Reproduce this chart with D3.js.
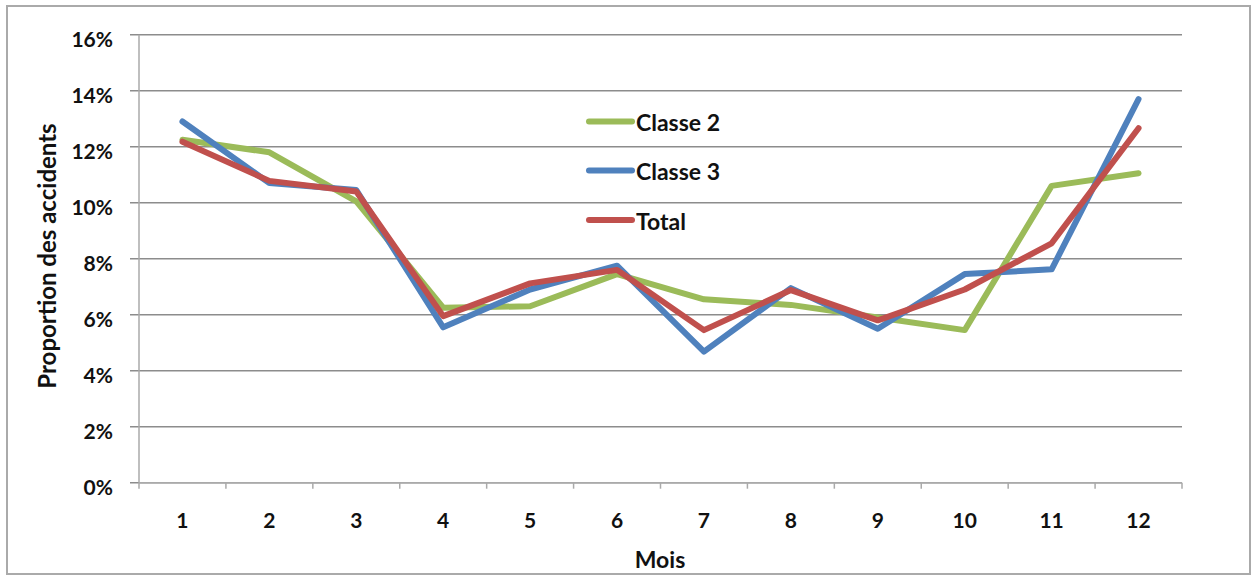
<!DOCTYPE html>
<html><head><meta charset="utf-8">
<script src="https://cdn.jsdelivr.net/npm/d3@7"></script>
<style>body{margin:0;background:#fff}svg{display:block}text{font-family:Lato,"Open Sans",sans-serif;font-weight:bold;fill:#111}</style>
</head><body><svg id="c" width="1255" height="577"></svg>
<script>
const months = ["1","2","3","4","5","6","7","8","9","10","11","12"];
const classe2 = [12.25,11.8,10.05,6.25,6.3,7.45,6.55,6.35,5.9,5.45,10.6,11.05];
const classe3 = [12.9,10.7,10.45,5.55,6.9,7.75,4.68,6.95,5.5,7.45,7.62,13.7];
const total = [12.18,10.78,10.4,5.95,7.12,7.6,5.45,6.88,5.8,6.9,8.55,12.66];
const yTicks = [0,2,4,6,8,10,12,14,16];
const seriesNames = ["Classe 2","Classe 3","Total"];
const seriesColors = ["#9BBB59","#4F81BD","#C0504D"];
const seriesData = [classe2, classe3, total];

const svg = d3.select("#c");
svg.append("rect").attr("x",7).attr("y",6).attr("width",1243).attr("height",568)
  .attr("fill","#fff").attr("stroke","#aaa").attr("stroke-width",2);

const x = d3.scaleBand().domain(months).range([139,1182]);
const y = d3.scaleLinear().domain([0,16]).range([482.7,34.7]);

// gridlines
svg.append("g").selectAll("line").data(yTicks).join("line")
  .attr("x1",130).attr("x2",1182)
  .attr("y1",d=>y(d)).attr("y2",d=>y(d))
  .attr("stroke","#8c8c8c").attr("stroke-width",1.5);

// y axis line
svg.append("line").attr("x1",139).attr("x2",139).attr("y1",y(16)).attr("y2",y(0))
  .attr("stroke","#aaa").attr("stroke-width",1.5);
// x axis line
svg.append("line").attr("x1",139).attr("x2",1182).attr("y1",y(0)).attr("y2",y(0))
  .attr("stroke","#aaa").attr("stroke-width",1.5);
// x ticks at band boundaries
const bounds = months.map(m=>x(m)).concat([x.range()[1]]);
svg.append("g").selectAll("line").data(bounds).join("line")
  .attr("x1",d=>d).attr("x2",d=>d).attr("y1",y(0)).attr("y2",y(0)+6)
  .attr("stroke","#aaa").attr("stroke-width",1.5);

// y labels
svg.append("g").selectAll("text").data(yTicks).join("text")
  .attr("x",113).attr("y",d=>y(d)+12).attr("text-anchor","end")
  .attr("font-size",21).text(d=>d+"%");
// x labels
svg.append("g").selectAll("text").data(months).join("text")
  .attr("x",d=>x(d)+x.bandwidth()/2).attr("y",528).attr("text-anchor","middle")
  .attr("font-size",21).text(d=>d);

// titles
svg.append("text").attr("x",660).attr("y",568).attr("text-anchor","middle")
  .attr("font-size",23).text("Mois");
svg.append("text").attr("transform","translate(56,256) rotate(-90)").attr("text-anchor","middle")
  .attr("font-size",24).text("Proportion des accidents");

// lines
const line = d3.line().x((d,i)=>x(months[i])+x.bandwidth()/2).y(d=>y(d));
seriesData.forEach((s,k)=>{
  svg.append("path").datum(s).attr("d",line).attr("fill","none")
    .attr("stroke",seriesColors[k]).attr("stroke-width",6)
    .attr("stroke-linejoin","round").attr("stroke-linecap","round");
});

// legend
const ly = [121.5,170.5,220];
seriesNames.forEach((n,k)=>{
  svg.append("line").attr("x1",589).attr("x2",632).attr("y1",ly[k]).attr("y2",ly[k])
    .attr("stroke",seriesColors[k]).attr("stroke-width",6).attr("stroke-linecap","round");
  svg.append("text").attr("x",636).attr("y",ly[k]+9.5).attr("font-size",23).text(n);
});
</script></body></html>
